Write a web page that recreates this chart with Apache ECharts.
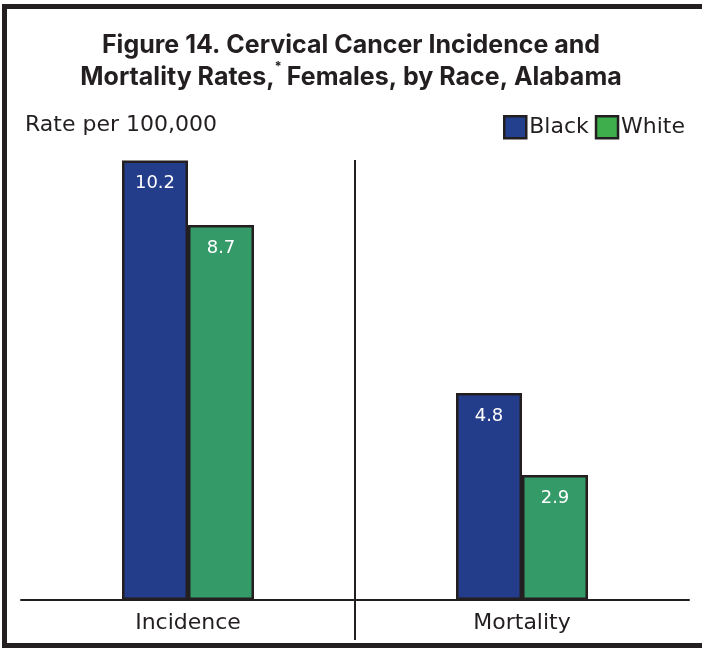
<!DOCTYPE html>
<html>
<head>
<meta charset="utf-8">
<script src="https://cdn.jsdelivr.net/npm/echarts@6/dist/echarts.min.js"></script>
<style>
html,body{margin:0;padding:0;background:#fff;}
#chart{width:702px;height:648px;}
</style>
</head>
<body>
<div id="chart"></div>
<script>
const categories = ['Incidence', 'Mortality'];
const blackValues = [10.2, 4.8];
const whiteValues = [8.7, 2.9];
const seriesNames = ['Black', 'White'];
const dividerPositions = [1];

const INK = '#231f20';
const TITLE_FONT = 'Inter, "Open Sans", sans-serif';
const FONT = '"DejaVu Sans", Inter, sans-serif';

const chart = echarts.init(document.getElementById('chart'), null, {renderer: 'canvas'});
chart.setOption({
  backgroundColor: '#ffffff',
  animation: false,
  title: [
    {
      text: 'Figure 14. Cervical Cancer Incidence and\nMortality Rates,{sup|*}Females, by Race, Alabama',
      left: 'center',
      top: 24,
      textStyle: {
        fontFamily: TITLE_FONT,
        fontWeight: 'bold',
        fontSize: 25,
        lineHeight: 32,
        color: INK,
        rich: {
          sup: {fontFamily: TITLE_FONT, fontWeight: 'bold', fontSize: 13, verticalAlign: 'top', lineHeight: 32, color: INK, padding: [0, 5, 10, 0]}
        }
      }
    },
    {
      text: 'Rate per 100,000',
      left: 20,
      top: 109,
      textStyle: {fontFamily: FONT, fontWeight: 'normal', fontSize: 22, color: INK}
    }
  ],
  legend: {
    data: seriesNames.map((n, i) => ({
      name: n,
      itemStyle: {color: i === 0 ? '#23408e' : '#3dae4b', borderColor: INK, borderWidth: 2.5}
    })),
    right: 12,
    top: 110,
    icon: 'rect',
    itemWidth: 22,
    itemHeight: 22,
    itemGap: 6,
    textStyle: {fontFamily: FONT, fontSize: 22, color: INK, width: 68, padding: [0, 0, 0, -2]}
  },
  grid: {left: 21, right: 13, top: 160, bottom: 8, containLabel: false, outerBoundsMode: 'none'},
  xAxis: [
    {
      type: 'category',
      data: categories,
      axisLine: {show: true, onZero: true, lineStyle: {color: INK, width: 2}},
      axisTick: {show: false},
      axisLabel: {fontFamily: FONT, fontSize: 22, color: INK, margin: -28},
      splitLine: {show: false}
    },
    {
      type: 'value',
      min: 0,
      max: 2,
      show: false
    }
  ],
  yAxis: {
    type: 'value',
    min: -0.93,
    max: 10.21,
    show: false,
    splitLine: {show: false}
  },
  graphic: [{
    type: 'rect',
    shape: {x: 4.5, y: 6.5, width: 702, height: 639},
    style: {fill: 'none', stroke: INK, lineWidth: 5},
    silent: true,
    z: 100
  }],
  series: [
    {
      name: seriesNames[0],
      type: 'bar',
      data: blackValues,
      barWidth: 66,
      barGap: '0%',
      itemStyle: {color: '#243d8a', borderColor: INK, borderWidth: 2.5},
      label: {show: true, position: 'insideTop', distance: 14, color: '#ffffff', fontFamily: FONT, fontSize: 18}
    },
    {
      name: seriesNames[1],
      type: 'bar',
      data: whiteValues,
      barWidth: 66,
      barGap: '0%',
      itemStyle: {color: '#349a67', borderColor: INK, borderWidth: 2.5},
      label: {show: true, position: 'insideTop', distance: 14, color: '#ffffff', fontFamily: FONT, fontSize: 18}
    },
    {
      name: 'divider',
      type: 'line',
      xAxisIndex: 1,
      data: [],
      silent: true,
      markLine: {
        silent: true,
        symbol: ['none', 'none'],
        label: {show: false},
        lineStyle: {color: INK, width: 2, type: 'solid'},
        emphasis: {disabled: true},
        data: dividerPositions.map(v => ({xAxis: v}))
      }
    }
  ]
});
</script>
</body>
</html>
